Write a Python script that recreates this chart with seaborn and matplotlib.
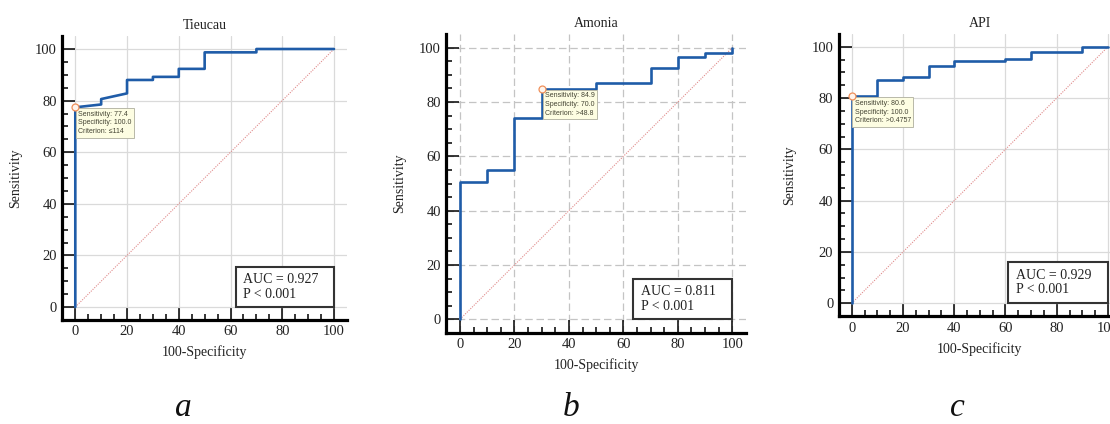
import numpy as np
import pandas as pd
import matplotlib
matplotlib.use("Agg")
import matplotlib.pyplot as plt
from matplotlib.patches import Rectangle
from matplotlib.ticker import FixedLocator
import seaborn as sns

# ---------------- data ----------------
titles = ["Tieucau", "Amonia", "API"]
panel_letters = ["a", "b", "c"]

tieucau_fpr = [0, 0, 10, 10, 20, 20, 30, 30, 40, 40, 50, 50, 70, 70, 100]
tieucau_tpr = [0, 77.4, 78.5, 80.6, 82.8, 88.0, 88.0, 89.2, 89.2, 92.3, 92.3, 98.7, 98.7, 100, 100]

amonia_fpr = [0, 0, 10, 10, 20, 20, 30, 30, 50, 50, 70, 70, 80, 80, 90, 90, 100, 100]
amonia_tpr = [0, 50.4, 50.4, 54.8, 54.8, 74.2, 74.2, 84.9, 84.9, 87.0, 87.0, 92.4, 92.4, 96.7, 96.7, 97.9, 97.9, 100]

api_fpr = [0, 0, 10, 10, 20, 20, 30, 30, 40, 40, 60, 60, 70, 70, 90, 90, 100]
api_tpr = [0, 80.6, 80.6, 87.0, 87.0, 88.0, 88.0, 92.3, 92.3, 94.4, 94.4, 95.3, 95.3, 97.8, 97.8, 100, 100]

auc_values = ["0.927", "0.811", "0.929"]
p_texts = ["P < 0.001", "P < 0.001", "P < 0.001"]

crit_fpr = [0, 30, 0]
crit_sens = [77.4, 84.9, 80.6]
crit_spec = ["100.0", "70.0", "100.0"]
crit_criterion = ["\u2264114", ">48.8", ">0.4757"]

ref_line = [0, 100]

curves = [(tieucau_fpr, tieucau_tpr), (amonia_fpr, amonia_tpr), (api_fpr, api_tpr)]

# ---------------- style ----------------
sns.set_theme(style="white")
plt.rcParams["font.family"] = ["Liberation Serif", "DejaVu Serif"]

W, H = 1110, 424
fig = plt.figure(figsize=(W / 100, H / 100), dpi=100)

# pixel positions of data 0 and 100 for each panel (x0, x100, y0, y100)
frames = [(75.3, 334.0, 307.0, 49.0),
          (460.0, 732.3, 319.3, 47.7),
          (851.7, 1108.0, 303.3, 46.7)]
lo, hi = -5, 105
grid_styles = ["-", (0, (6, 3)), "-"]
grid_colors = ["#dadada", "#c4c4c4", "#dadada"]
ylabel_x = [-0.165, -0.155, -0.173]
xlabel_y = [-0.113, -0.107, -0.117]
letter_x = [183, 571, 957]
auc_box_left = [62, 63.5, 61]
auc_box_top = [15.5, 15.0, 16.2]

roc_color = "#1f5ca8"

for i in range(3):
    x0, x100, y0, y100 = frames[i]
    sx = (x100 - x0) / 100.0
    sy = (y0 - y100) / 100.0
    left = x0 + lo * sx
    right = x0 + hi * sx
    bottom = y0 - lo * sy
    top = y0 - hi * sy
    ax = fig.add_axes([left / W, 1 - bottom / H, (right - left) / W, (bottom - top) / H])
    ax.set_facecolor("white")

    fpr, tpr = curves[i]
    df = pd.DataFrame({"fpr": fpr, "tpr": tpr})
    ref = pd.DataFrame({"x": ref_line, "y": ref_line})

    sns.lineplot(data=ref, x="x", y="y", ax=ax, color="#e08a8a", lw=0.8,
                 linestyle=(0, (1, 1.2)), sort=False, estimator=None, zorder=2)
    sns.lineplot(data=df, x="fpr", y="tpr", ax=ax, color=roc_color, lw=1.9,
                 sort=False, estimator=None, zorder=4)

    ax.set_xlim(lo, hi)
    ax.set_ylim(lo, hi)
    ticks = [0, 20, 40, 60, 80, 100]
    minors = [v for v in range(5, 100, 5) if v % 20]
    ax.set_xticks(ticks)
    ax.set_yticks(ticks)
    ax.xaxis.set_minor_locator(FixedLocator(minors))
    ax.yaxis.set_minor_locator(FixedLocator(minors))
    ax.tick_params(which="major", direction="in", length=9.5, width=1.1, color="black",
                   labelsize=10.5, pad=4, labelcolor="#222222")
    ax.tick_params(which="minor", direction="in", length=4.5, width=1.1, color="black")
    ax.tick_params(axis="x", bottom=True, which="both")
    ax.tick_params(axis="y", left=True, which="both")

    ax.grid(True, which="major", color=grid_colors[i], lw=0.9, linestyle=grid_styles[i], zorder=0)
    ax.set_axisbelow(True)

    sns.despine(ax=ax)
    for s in ["left", "bottom"]:
        ax.spines[s].set_linewidth(2.3)
        ax.spines[s].set_color("black")

    ax.set_title(titles[i], fontsize=10, pad=5, color="#222222")
    ax.set_xlabel("100-Specificity", fontsize=10, va="center", color="#222222")
    ax.set_ylabel("Sensitivity", fontsize=10, va="center", color="#222222")
    ax.xaxis.set_label_coords(0.5, xlabel_y[i])
    ax.yaxis.set_label_coords(ylabel_x[i], 0.5)

    # AUC box
    bl = auc_box_left[i]
    bt = auc_box_top[i]
    ax.add_patch(Rectangle((bl, 0), 100 - bl, bt, facecolor="white",
                           edgecolor="#333333", lw=1.5, zorder=5))
    ax.text(bl + 3.0, bt / 2.0, f"AUC = {auc_values[i]}\n{p_texts[i]}", fontsize=10,
            ha="left", va="center", linespacing=1.15, color="#222222", zorder=6)

    # criterion tooltip
    cx, cy = crit_fpr[i], crit_sens[i]
    tip = (f"Sensitivity: {crit_sens[i]}\nSpecificity: {crit_spec[i]}\n"
           f"Criterion: {crit_criterion[i]}")
    ax.text(cx + 1.2, cy - 1.3, tip, fontsize=5, family=["Liberation Sans", "DejaVu Sans"],
            ha="left", va="top", linespacing=1.35, color="#444433", zorder=7,
            bbox=dict(boxstyle="square,pad=0.35", facecolor="#fdfde2",
                      edgecolor="#b8b8a8", lw=0.7))
    ax.plot([cx], [cy], marker="o", ms=5, mfc="#fff4ec", mec="#f0905a", mew=0.9,
            zorder=8, clip_on=False)

    fig.text(letter_x[i] / W, 0.018, panel_letters[i], fontsize=24, style="italic",
             ha="center", va="baseline", color="#111111")

fig.savefig("out.png", dpi=100)
